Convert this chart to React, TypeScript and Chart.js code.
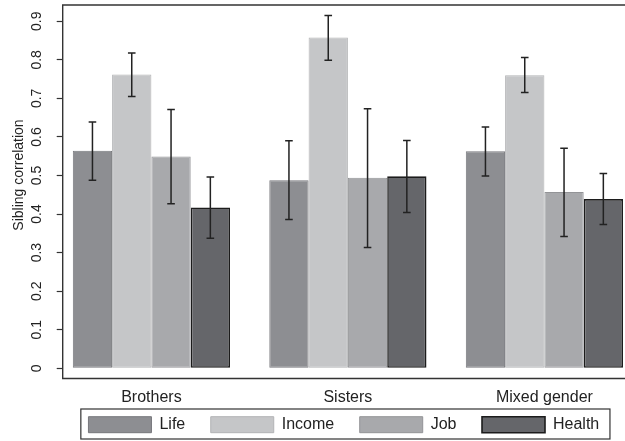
import React, { useEffect, useRef } from "react";
import { Chart, registerables } from "chart.js";

Chart.register(...registerables);

// ---- Data ----
const groups = ["Brothers", "Sisters", "Mixed gender"];
const seriesNames = ["Life", "Income", "Job", "Health"];

const lifeValues = [0.564, 0.488, 0.563];
const lifeLower = [0.488, 0.386, 0.499];
const lifeUpper = [0.639, 0.590, 0.626];

const incomeValues = [0.762, 0.858, 0.760];
const incomeLower = [0.705, 0.799, 0.715];
const incomeUpper = [0.818, 0.915, 0.806];

const jobValues = [0.549, 0.494, 0.457];
const jobLower = [0.427, 0.313, 0.342];
const jobUpper = [0.671, 0.673, 0.571];

const healthValues = [0.417, 0.498, 0.439];
const healthLower = [0.337, 0.404, 0.373];
const healthUpper = [0.496, 0.591, 0.505];

const yTickValues = [0, 0.1, 0.2, 0.3, 0.4, 0.5, 0.6, 0.7, 0.8, 0.9];
const yTickLabels = ["0", "0.1", "0.2", "0.3", "0.4", "0.5", "0.6", "0.7", "0.8", "0.9"];
const yTitle = "Sibling correlation";

// ---- Styles ----
const FONT = "'Liberation Sans', Arial, Helvetica, sans-serif";
const TEXT = "#222222";
const FRAME = "#333333";
const fills = ["#8d8e92", "#c5c6c8", "#a8a9ac", "#65666a"];
const borders = ["#77787c", "#b2b3b5", "#939497", "#1c1c1c"];
const borderWidths = [1, 1, 1, 1.6];

const allValues = [lifeValues, incomeValues, jobValues, healthValues];
const allLower = [lifeLower, incomeLower, jobLower, healthLower];
const allUpper = [lifeUpper, incomeUpper, jobUpper, healthUpper];

const errorBarPlugin = {
  id: "errorBars",
  afterDatasetsDraw(chart: any) {
    const ctx = chart.ctx;
    const yScale = chart.scales.y;
    ctx.save();
    ctx.strokeStyle = "#222222";
    ctx.lineWidth = 1.5;
    chart.data.datasets.forEach((ds: any, di: number) => {
      const meta = chart.getDatasetMeta(di);
      meta.data.forEach((bar: any, i: number) => {
        const lo = yScale.getPixelForValue(ds.errLow[i]);
        const hi = yScale.getPixelForValue(ds.errHigh[i]);
        const cap = 3.8;
        ctx.beginPath();
        ctx.moveTo(bar.x, lo);
        ctx.lineTo(bar.x, hi);
        ctx.moveTo(bar.x - cap, lo);
        ctx.lineTo(bar.x + cap, lo);
        ctx.moveTo(bar.x - cap, hi);
        ctx.lineTo(bar.x + cap, hi);
        ctx.stroke();
      });
    });
    ctx.restore();
  },
};

const framePlugin = {
  id: "frameAndLegendBox",
  afterDraw(chart: any) {
    const ctx = chart.ctx;
    const a = chart.chartArea;
    ctx.save();
    ctx.strokeStyle = FRAME;
    ctx.lineWidth = 1.4;
    ctx.beginPath();
    ctx.moveTo(a.right + 2, a.top);
    ctx.lineTo(a.left, a.top);
    ctx.lineTo(a.left, a.bottom);
    ctx.lineTo(a.right + 2, a.bottom);
    ctx.stroke();

    const hb = chart.legend && chart.legend.legendHitBoxes;
    if (hb && hb.length) {
      const first = hb[0];
      const last = hb[hb.length - 1];
      const l = first.left - 7.6;
      const r = last.left + last.width + 10.7;
      const t = first.top - 7.7;
      const b = first.top + 22.3;
      ctx.lineWidth = 1.2;
      ctx.strokeRect(l, t, r - l, b - t);
    }

    ctx.fillStyle = TEXT;
    ctx.font = `14px ${FONT}`;
    ctx.textAlign = "center";
    ctx.textBaseline = "middle";
    ctx.translate(18.8, 175);
    ctx.rotate(-Math.PI / 2);
    ctx.fillText(yTitle, 0, 0);
    ctx.restore();
  },
};

export default function App() {
  const canvasRef = useRef<HTMLCanvasElement | null>(null);

  useEffect(() => {
    const canvas = canvasRef.current;
    if (!canvas) return;
    Chart.defaults.font.family = FONT;
    Chart.defaults.color = TEXT;

    const datasets = seriesNames.map((name, si) => ({
      label: name,
      data: allValues[si].map((v, gi) => ({ x: gi, y: v })),
      errLow: allLower[si],
      errHigh: allUpper[si],
      backgroundColor: fills[si],
      borderColor: borders[si],
      borderWidth: borderWidths[si],
      borderSkipped: false,
      categoryPercentage: 0.8,
      barPercentage: 1.0,
    }));

    const chart = new Chart(canvas, {
      type: "bar",
      data: { datasets } as any,
      options: {
        animation: false,
        responsive: false,
        devicePixelRatio: 1,
        layout: { padding: { top: 5, left: 0, right: 0, bottom: -1.7 } },
        plugins: {
          tooltip: { enabled: false },
          legend: {
            position: "bottom",
            fullSize: false,
            labels: {
              boxWidth: 63,
              boxHeight: 16,
              padding: 25.5,
              color: TEXT,
              font: { size: 16, family: FONT },
            },
          },
        },
        scales: {
          x: {
            type: "linear",
            offset: false,
            min: -0.4514,
            max: 2.4102,
            grid: { display: false, drawTicks: false, offset: false },
            border: { display: false },
            afterBuildTicks: (scale: any) => {
              scale.ticks = groups.map((_, i) => ({ value: i }));
            },
            afterFit: (scale: any) => {
              scale.height = 12.7;
              scale.paddingLeft = 0;
              scale.paddingRight = 0;
            },
            ticks: {
              mirror: true,
              padding: -28.6,
              autoSkip: false,
              maxRotation: 0,
              color: TEXT,
              font: { size: 16, family: FONT },
              callback: (v: any) => groups[Math.round(Number(v))] ?? "",
            },
          },
          y: {
            type: "linear",
            min: -0.02645,
            max: 0.9422,
            grid: {
              drawOnChartArea: false,
              drawTicks: true,
              tickLength: 6,
              color: FRAME,
              tickWidth: 1.2,
            },
            border: { display: false },
            afterBuildTicks: (scale: any) => {
              scale.ticks = yTickValues.map((v) => ({ value: v }));
            },
            afterFit: (scale: any) => {
              scale.width = 62.7;
              scale.paddingTop = 0;
              scale.paddingBottom = 0;
            },
            ticks: {
              autoSkip: false,
              minRotation: 90,
              maxRotation: 90,
              crossAlign: "center",
              padding: 10,
              color: TEXT,
              font: { size: 14, family: FONT },
              callback: (v: any) => {
                const idx = yTickValues.findIndex((t) => Math.abs(t - Number(v)) < 1e-6);
                return idx >= 0 ? yTickLabels[idx] : "";
              },
            },
          },
        },
      } as any,
      plugins: [errorBarPlugin, framePlugin],
    });

    return () => chart.destroy();
  }, []);

  return (
    <div style={{ position: "fixed", left: 0, top: 0, width: 625, height: 441, background: "#ffffff" }}>
      <canvas ref={canvasRef} width={625} height={441} style={{ width: 625, height: 441, display: "block" }} />
    </div>
  );
}
